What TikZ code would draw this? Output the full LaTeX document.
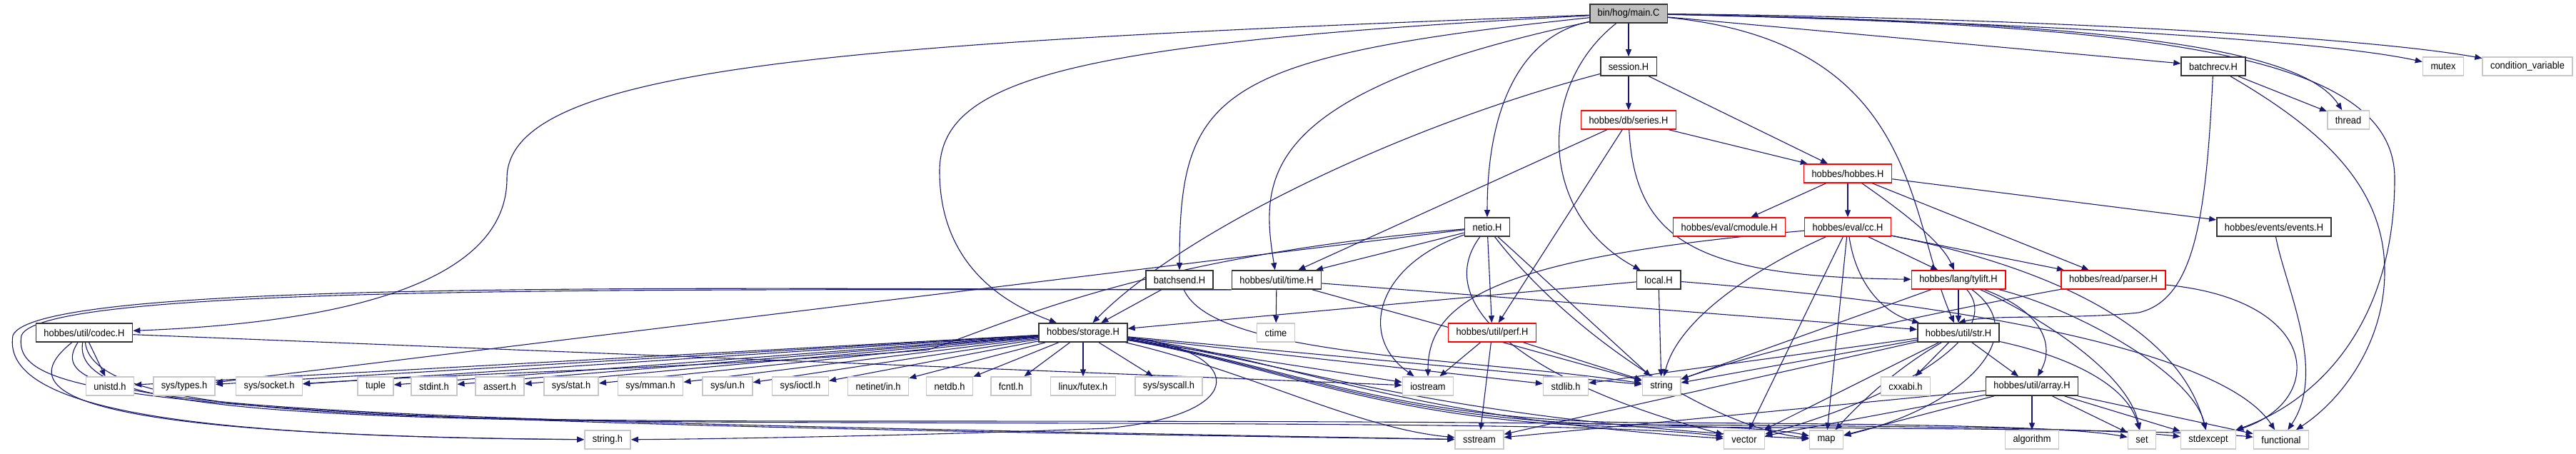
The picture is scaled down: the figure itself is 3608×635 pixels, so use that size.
\documentclass[tikz,border=0pt]{standalone}
\usepackage{fontspec}
\setmainfont{Liberation Sans}[FakeStretch=0.92]
\usetikzlibrary{arrows.meta,backgrounds}
\definecolor{edgecol}{HTML}{191970}
\definecolor{maingray}{HTML}{BFBFBF}
\definecolor{leafgray}{HTML}{C8C8C8}
\begin{document}
\begin{tikzpicture}[x=1pt,y=-1pt,
  every node/.style={font=\fontsize{14}{16}\selectfont, inner xsep=11pt, inner ysep=0pt,
    minimum height=26pt, fill=white},
  box/.style={draw=black!80, line width=1.6pt},
  mainbox/.style={box, fill=maingray},
  redbox/.style={draw=red, line width=1.5pt},
  leaf/.style={draw=leafgray, line width=1.5pt},
  dep/.style={draw=edgecol, line width=1.1pt, -{Triangle[length=10pt,width=8pt]}}
]
\useasboundingbox (0,0) rectangle (3608,635);
% row 1-5
\node[mainbox] (main) at (2281,19) {bin/hog/main.C};
\node[box] (session) at (2281,93) {session.H};
\node[box] (batchrecv) at (3100,93) {batchrecv.H};
\node[leaf] (mutex) at (3422,93) {mutex};
\node[leaf] (condvar) at (3540,93) {condition\_variable};
\node[redbox] (series) at (2281,168) {hobbes/db/series.H};
\node[leaf] (thread) at (3289,168) {thread};
\node[redbox] (hobbes) at (2588,243) {hobbes/hobbes.H};
\node[box] (netio) at (2083,318) {netio.H};
\node[redbox] (cmodule) at (2422,318) {hobbes/eval/cmodule.H};
\node[redbox] (cc) at (2588,318) {hobbes/eval/cc.H};
\node[box] (events) at (3185,318) {hobbes/events/events.H};
% row 6-7
\node[box] (batchsend) at (1652,392) {batchsend.H};
\node[box] (utiltime) at (1788,392) {hobbes/util/time.H};
\node[box] (local) at (2323,392) {local.H};
\node[redbox] (tylift) at (2743,392) {hobbes/lang/tylift.H};
\node[redbox] (parser) at (2960,392) {hobbes/read/parser.H};
\node[box] (codec) at (118,466) {hobbes/util/codec.H};
\node[box] (storage) at (1517,466) {hobbes/storage.H};
\node[leaf] (ctime) at (1787,466) {ctime};
\node[redbox] (perf) at (2090,466) {hobbes/util/perf.H};
\node[box] (str) at (2743,466) {hobbes/util/str.H};
% row 8
\node[leaf] (unistd) at (154,541) {unistd.h};
\node[leaf] (systypes) at (258,541) {sys/types.h};
\node[leaf] (syssocket) at (377,541) {sys/socket.h};
\node[leaf] (tuple) at (526,541) {tuple};
\node[leaf] (stdint) at (608,541) {stdint.h};
\node[leaf] (assert) at (700,541) {assert.h};
\node[leaf] (sysstat) at (800,541) {sys/stat.h};
\node[leaf] (sysmman) at (911,541) {sys/mman.h};
\node[leaf] (sysun) at (1019,541) {sys/un.h};
\node[leaf] (sysioctl) at (1121,541) {sys/ioctl.h};
\node[leaf] (netinet) at (1230,541) {netinet/in.h};
\node[leaf] (netdb) at (1330,541) {netdb.h};
\node[leaf] (fcntl) at (1416,541) {fcntl.h};
\node[leaf] (futex) at (1517,541) {linux/futex.h};
\node[leaf] (syscall) at (1637,541) {sys/syscall.h};
\node[leaf] (iostream) at (2000,541) {iostream};
\node[leaf] (stdlib) at (2193,541) {stdlib.h};
\node[leaf] (string) at (2327,541) {string};
\node[leaf] (cxxabi) at (2669,541) {cxxabi.h};
\node[box] (array) at (2846,541) {hobbes/util/array.H};
% row 9
\node[leaf] (stringh) at (851,616) {string.h};
\node[leaf] (sstream) at (2072,616) {sstream};
\node[leaf] (vector) at (2443,616) {vector};
\node[leaf] (map) at (2558,616) {map};
\node[leaf] (algorithm) at (2846,616) {algorithm};
\node[leaf] (set) at (3000,616) {set};
\node[leaf] (stdexcept) at (3093,616) {stdexcept};
\node[leaf] (functional) at (3195,616) {functional};

\begin{pgfonlayer}{background}
% main.C
\draw[dep] (main) -- (session);
\draw[dep] (main) -- (batchrecv);
\draw[dep] (main) .. controls (2800,30) and (3250,55) .. (mutex);
\draw[dep] (main) .. controls (2800,24) and (3300,50) .. (condvar);
\draw[dep] (main) .. controls (2900,30) and (3220,60) .. (thread);
\draw[dep] (main) .. controls (3000,35) and (3354,70) .. (3354,250) .. controls (3354,450) and (3250,560) .. (stdexcept);
\draw[dep] (main) .. controls (2130,50) and (2083,150) .. (netio);
\draw[dep] (main) .. controls (2153,120) and (2153,300) .. (local);
\draw[dep] (main) .. controls (2690,60) and (2670,300) .. (str);
\draw[dep] (main) .. controls (1200,60) and (710,90) .. (710,250) .. controls (710,420) and (400,455) .. (codec);
\draw[dep] (main) .. controls (1500,60) and (1316,110) .. (1316,240) .. controls (1316,380) and (1420,430) .. (storage);
\draw[dep] (main) .. controls (1700,80) and (1652,130) .. (batchsend);
\draw[dep] (main) .. controls (1760,130) and (1765,250) .. (utiltime);
% session.H, series.H, hobbes.H
\draw[dep] (session) -- (series);
\draw[dep] (session) -- (hobbes);
\draw[dep] (session) .. controls (1950,180) and (1650,330) .. (storage);
\draw[dep] (series) -- (hobbes);
\draw[dep] (series) -- (utiltime);
\draw[dep] (series) -- (perf);
\draw[dep] (series) .. controls (2290,340) and (2380,388) .. (tylift);
\draw[dep] (hobbes) -- (cmodule);
\draw[dep] (hobbes) -- (cc);
\draw[dep] (hobbes) .. controls (2670,300) and (2720,340) .. (tylift);
\draw[dep] (hobbes) -- (parser);
\draw[dep] (hobbes) -- (events);
% netio.H
\draw[dep] (netio) -- (utiltime);
\draw[dep] (netio) -- (systypes);
\draw[dep] (netio) .. controls (1600,360) and (1420,450) .. (1300,490) .. controls (1000,515) and (600,525) .. (syssocket);
\draw[dep] (netio) .. controls (1930,370) and (1900,470) .. (iostream);
\draw[dep] (netio) -- (perf);
\draw[dep] (netio) -- (string);
\draw[dep] (netio) .. controls (2000,430) and (2150,540) .. (vector);
\draw[dep] (netio) .. controls (2200,470) and (2400,600) .. (map);
% cc.H, parser.H, events.H
\draw[dep] (cc) -- (tylift);
\draw[dep] (cc) -- (parser);
\draw[dep] (cc) .. controls (2600,400) and (2640,440) .. (str);
\draw[dep] (cc) .. controls (2100,360) and (2000,420) .. (iostream);
\draw[dep] (cc) .. controls (2450,380) and (2350,450) .. (string);
\draw[dep] (cc) -- (vector);
\draw[dep] (cc) -- (map);
\draw[dep] (cc) .. controls (2850,370) and (3050,450) .. (stdexcept);
\draw[dep] (parser) .. controls (3250,420) and (3260,560) .. (stdexcept);
\draw[dep] (parser) .. controls (2750,430) and (2500,480) .. (string);
\draw[dep] (events) .. controls (3200,400) and (3260,520) .. (functional);
% batchrecv.H, batchsend.H, time.H, local.H
\draw[dep] (batchrecv) -- (thread);
\draw[dep] (batchrecv) .. controls (3090,300) and (3075,420) .. (2995,438) .. controls (2900,448) and (2790,440) .. (str.north);
\draw[dep] (batchrecv) .. controls (3250,180) and (3340,260) .. (3340,380) .. controls (3340,480) and (3280,560) .. (functional);
\draw[dep] (batchsend) -- (storage);
\draw[dep] (batchsend) .. controls (1700,500) and (2050,500) .. (string);
\draw[dep] (utiltime) -- (ctime);
\draw[dep] (utiltime) -- (str);
\draw[dep] (utiltime) -- (string);
\draw[dep] (utiltime.south west) .. controls (1000,407) and (60,395) .. (30,470) .. controls (15,560) and (200,590) .. (sstream);
\draw[dep] (utiltime.south west) .. controls (1000,405) and (50,390) .. (18,470) .. controls (0,580) and (300,612) .. (stringh);
\draw[dep] (local) -- (storage);
\draw[dep] (local) -- (string);
\draw[dep] (local) .. controls (2800,430) and (3120,500) .. (functional);
% tylift.H, str.H, array.H, perf.H
\draw[dep] (tylift) -- (str);
\draw[dep] (tylift) .. controls (2870,440) and (2875,490) .. (array);
\draw[dep] (tylift) -- (string);
\draw[dep] (tylift) .. controls (2850,470) and (2750,570) .. (map);
\draw[dep] (tylift) .. controls (2850,440) and (2980,520) .. (set);
\draw[dep] (tylift) .. controls (2900,430) and (3070,520) .. (stdexcept);
\draw[dep] (tylift) .. controls (2810,470) and (2650,560) .. (vector);
\draw[dep] (str) -- (cxxabi);
\draw[dep] (str) -- (array);
\draw[dep] (str) -- (string);
\draw[dep] (str) -- (stdlib);
\draw[dep] (str) -- (sstream);
\draw[dep] (str) -- (vector);
\draw[dep] (str) .. controls (2650,520) and (2600,570) .. (map);
\draw[dep] (str) .. controls (2900,500) and (2980,540) .. (set);
\draw[dep] (array) -- (algorithm);
\draw[dep] (array) -- (set);
\draw[dep] (array) -- (stdexcept);
\draw[dep] (array) -- (functional);
\draw[dep] (array) -- (map);
\draw[dep] (array) -- (vector);
\draw[dep] (array) -- (sstream);
\draw[dep] (perf) -- (iostream);
\draw[dep] (perf) -- (sstream);
\draw[dep] (perf) -- (string);
% storage.H
\draw[dep] (storage) -- (unistd);
\draw[dep] (storage) -- (systypes);
\draw[dep] (storage) -- (syssocket);
\draw[dep] (storage) -- (tuple);
\draw[dep] (storage) -- (stdint);
\draw[dep] (storage) -- (assert);
\draw[dep] (storage) -- (sysstat);
\draw[dep] (storage) -- (sysmman);
\draw[dep] (storage) -- (sysun);
\draw[dep] (storage) -- (sysioctl);
\draw[dep] (storage) -- (netinet);
\draw[dep] (storage) -- (netdb);
\draw[dep] (storage) -- (fcntl);
\draw[dep] (storage) -- (futex);
\draw[dep] (storage) -- (syscall);
\draw[dep] (storage) .. controls (1740,490) and (1760,580) .. (1550,600) .. controls (1300,610) and (1000,615) .. (stringh);
\draw[dep] (storage) -- (iostream);
\draw[dep] (storage) -- (stdlib);
\draw[dep] (storage) -- (string);
\draw[dep] (storage) .. controls (1750,520) and (1900,600) .. (sstream);
\draw[dep] (storage) .. controls (1800,500) and (1950,585) .. (vector);
\draw[dep] (storage) .. controls (1800,505) and (2000,588) .. (map);
\draw[dep] (storage) .. controls (1800,510) and (1950,590) .. (2300,592) .. controls (2700,594) and (2900,598) .. (set);
\draw[dep] (storage) .. controls (1800,512) and (1950,593) .. (2300,595) .. controls (2700,597) and (2950,600) .. (stdexcept);
\draw[dep] (storage) .. controls (1800,514) and (1950,596) .. (2300,598) .. controls (2700,600) and (3050,602) .. (functional);
% codec.H
\draw[dep] (codec) -- (unistd);
\draw[dep] (codec) .. controls (0,560) and (150,610) .. (stringh);
\draw[dep] (codec) -- (iostream);
\draw[dep] (codec) .. controls (50,570) and (300,585) .. (sstream);
\draw[dep] (codec) .. controls (100,575) and (400,590) .. (1200,592) .. controls (2000,594) and (2300,596) .. (vector);
\draw[dep] (codec) .. controls (130,580) and (500,590) .. (1200,590) .. controls (2100,590) and (2450,592) .. (map);
\end{pgfonlayer}
\end{tikzpicture}
\end{document}
